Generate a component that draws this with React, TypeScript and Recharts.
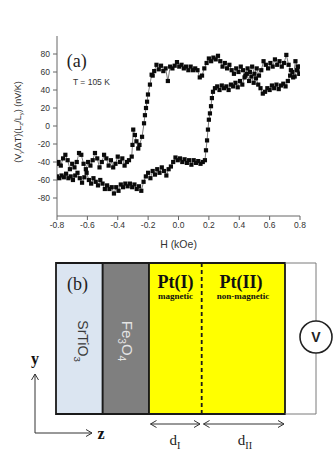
import React from 'react';
import { ScatterChart, Scatter, XAxis, YAxis, Label, ReferenceArea, ReferenceLine } from 'recharts';

const SANS = "'Liberation Sans', Arial, sans-serif";
const SERIF = "'Liberation Serif', 'Times New Roman', serif";

// ---------- panel (a) ----------
const xTicks = [-0.8, -0.6, -0.4, -0.2, 0, 0.2, 0.4, 0.6, 0.8];
const xMinor = [-0.7, -0.5, -0.3, -0.1, 0.1, 0.3, 0.5, 0.7];
const yTicks = [-80, -60, -40, -20, 0, 20, 40, 60, 80];
const yMinor = [-90, -70, -50, -30, -10, 10, 30, 50, 70, 90];

// field sweep from +0.8 kOe down to -0.8 kOe : [H (kOe), signal (nV/K)]
const sweepDown: [number, number][] = [
  [0.8, 58], [0.785, 66], [0.77, 72], [0.755, 54], [0.74, 62], [0.725, 68], [0.71, 79], [0.695, 70],
  [0.68, 66], [0.665, 72], [0.65, 68], [0.635, 74], [0.62, 66], [0.605, 70], [0.59, 64], [0.575, 68],
  [0.56, 72], [0.545, 62], [0.53, 56], [0.515, 64], [0.5, 58], [0.485, 66], [0.47, 60], [0.455, 64],
  [0.44, 56], [0.425, 62], [0.41, 66], [0.395, 60], [0.38, 64], [0.365, 58], [0.35, 62], [0.335, 68],
  [0.32, 64], [0.305, 70], [0.29, 66], [0.275, 72], [0.26, 78], [0.245, 74], [0.23, 76], [0.215, 72],
  [0.2, 75], [0.185, 70], [0.17, 64], [0.155, 56], [0.14, 54], [0.125, 62], [0.11, 64], [0.095, 62],
  [0.08, 66], [0.065, 62], [0.05, 66], [0.035, 64], [0.02, 68], [0.005, 66], [-0.01, 71], [-0.025, 67],
  [-0.04, 64], [-0.055, 66], [-0.07, 50], [-0.085, 64], [-0.1, 61], [-0.115, 67], [-0.13, 63], [-0.145, 68],
  [-0.16, 61], [-0.17, 56],
  [-0.177, 57], [-0.188, 46], [-0.201, 35], [-0.207, 27], [-0.214, 20], [-0.221, 12], [-0.227, 3],
  [-0.24, -12], [-0.257, -21], [-0.265, -25], [-0.277, -17], [-0.287, -10], [-0.298, -4], [-0.303, -21],
  [-0.308, -34], [-0.326, -38],
  [-0.34, -40], [-0.355, -44], [-0.37, -36], [-0.385, -40], [-0.4, -34], [-0.415, -42], [-0.43, -46],
  [-0.445, -38], [-0.46, -44], [-0.475, -36], [-0.49, -32], [-0.505, -40], [-0.52, -46], [-0.535, -36],
  [-0.55, -30], [-0.565, -38], [-0.58, -44], [-0.595, -40], [-0.61, -48], [-0.625, -42], [-0.64, -32],
  [-0.655, -30], [-0.67, -40], [-0.685, -46], [-0.7, -42], [-0.715, -48], [-0.73, -38], [-0.745, -32],
  [-0.76, -36], [-0.775, -44], [-0.79, -40], [-0.8, -42],
];

// field sweep from -0.8 kOe up to +0.8 kOe
const sweepUp: [number, number][] = [
  [-0.8, -56], [-0.785, -58], [-0.77, -55], [-0.755, -57], [-0.74, -53], [-0.725, -58], [-0.71, -56],
  [-0.695, -60], [-0.68, -55], [-0.665, -52], [-0.65, -58], [-0.635, -63], [-0.62, -57], [-0.605, -52],
  [-0.59, -60], [-0.575, -64], [-0.56, -58], [-0.545, -62], [-0.53, -66], [-0.515, -60], [-0.5, -64],
  [-0.485, -70], [-0.47, -66], [-0.455, -70], [-0.44, -68], [-0.425, -75], [-0.41, -68], [-0.395, -72],
  [-0.38, -65], [-0.365, -68], [-0.35, -64], [-0.335, -67], [-0.32, -64], [-0.305, -68], [-0.29, -65],
  [-0.275, -70], [-0.26, -67], [-0.245, -72], [-0.23, -62], [-0.215, -56], [-0.2, -52], [-0.185, -58],
  [-0.17, -50], [-0.155, -54], [-0.14, -48], [-0.125, -52], [-0.11, -46], [-0.095, -50], [-0.08, -55],
  [-0.065, -48], [-0.05, -45], [-0.035, -40], [-0.02, -35], [-0.005, -38], [0.01, -36], [0.025, -40],
  [0.04, -37], [0.055, -41], [0.07, -38], [0.085, -43], [0.1, -38], [0.115, -41], [0.13, -39],
  [0.145, -42], [0.16, -40], [0.174, -38],
  [0.181, -27], [0.188, -16], [0.194, -4], [0.2, 7], [0.207, 14], [0.214, 22], [0.22, 31], [0.227, 38],
  [0.24, 42], [0.255, 44], [0.27, 40], [0.285, 45], [0.3, 42], [0.315, 44], [0.33, 40], [0.345, 46],
  [0.36, 44], [0.375, 48], [0.39, 43], [0.405, 50], [0.42, 46], [0.435, 54], [0.45, 58], [0.465, 50],
  [0.48, 55], [0.495, 48], [0.51, 53], [0.525, 46], [0.54, 42], [0.555, 36], [0.57, 38], [0.585, 42],
  [0.6, 40], [0.615, 45], [0.63, 42], [0.645, 46], [0.66, 41], [0.675, 45], [0.69, 47], [0.705, 44],
  [0.72, 50], [0.735, 56], [0.75, 60], [0.765, 55], [0.78, 62], [0.795, 58], [0.8, 66],
];

type Part = { t: string; sub?: boolean };
type Note = {
  h?: number; v?: number; z?: number; y?: number;
  parts: Part[]; size: number; family: string; weight?: string | number;
  fill: string; anchor: 'start' | 'middle' | 'end'; rotate?: number;
};

const panelANotes: Note[] = [
  { h: -0.735, v: 66, parts: [{ t: '(a)' }], size: 18, family: SERIF, fill: '#222', anchor: 'start' },
  { h: -0.695, v: 46, parts: [{ t: 'T = 105 K' }], size: 8.5, family: SANS, fill: '#333', anchor: 'start' },
];

const yAxisTitle: Part[] = [
  { t: '(V' }, { t: 'y', sub: true }, { t: '/ΔT)(L' }, { t: 'z', sub: true },
  { t: '/L' }, { t: 'y', sub: true }, { t: ') (nV/K)' },
];

// ---------- panel (b) schematic ----------
const stackTop = 263;
const stackBottom = 414;
const layers = [
  { name: 'SrTiO3', from: 56, to: 102.7, fill: '#dbe5f1' },
  { name: 'Fe3O4', from: 102.7, to: 149, fill: '#7f7f7f' },
  { name: 'Pt', from: 149, to: 285, fill: '#ffff00' },
];
const ptBoundary = 201.7;
const wire: [number, number][] = [[285, 263], [316, 263], [316, 414], [285, 414]];
const voltmeter = [{ z: 316, y: 337 }];
const axisArrows = [
  { from: [35, 433], to: [35, 374], double: false },
  { from: [35, 433], to: [92, 433], double: false },
];
const thicknessArrows = [
  { from: [150.5, 424], to: [200, 424], double: true },
  { from: [203.5, 424], to: [284, 424], double: true },
];

const schematicNotes: Note[] = [
  { z: 67, y: 290, parts: [{ t: '(b)' }], size: 18, family: SERIF, fill: '#222', anchor: 'start' },
  { z: 78, y: 341, parts: [{ t: 'SrTiO' }, { t: '3', sub: true }], size: 14, family: SANS, fill: '#3a3a3a', anchor: 'middle', rotate: 90 },
  { z: 122, y: 341, parts: [{ t: 'Fe' }, { t: '3', sub: true }, { t: 'O' }, { t: '4', sub: true }], size: 15, family: SANS, fill: '#e4e4e4', anchor: 'middle', rotate: 90 },
  { z: 175.5, y: 287.5, parts: [{ t: 'Pt(I)' }], size: 18, family: SERIF, weight: 'bold', fill: '#111', anchor: 'middle' },
  { z: 175.5, y: 298.5, parts: [{ t: 'magnetic' }], size: 9, family: SERIF, weight: 'bold', fill: '#111', anchor: 'middle' },
  { z: 241, y: 287.5, parts: [{ t: 'Pt(II)' }], size: 18, family: SERIF, weight: 'bold', fill: '#111', anchor: 'middle' },
  { z: 243, y: 298.5, parts: [{ t: 'non-magnetic' }], size: 9, family: SERIF, weight: 'bold', fill: '#111', anchor: 'middle' },
  { z: 35, y: 364, parts: [{ t: 'y' }], size: 16, family: SERIF, weight: 'bold', fill: '#111', anchor: 'middle' },
  { z: 101, y: 438.5, parts: [{ t: 'z' }], size: 16, family: SERIF, weight: 'bold', fill: '#111', anchor: 'middle' },
  { z: 175, y: 445, parts: [{ t: 'd' }, { t: 'I', sub: true }], size: 15, family: SERIF, fill: '#222', anchor: 'middle' },
  { z: 245, y: 445, parts: [{ t: 'd' }, { t: 'II', sub: true }], size: 15, family: SERIF, fill: '#222', anchor: 'middle' },
];

function RichText(props: {
  x: number; y: number; parts: Part[]; size: number; family: string; weight?: string | number;
  fill: string; anchor: 'start' | 'middle' | 'end'; rotate?: number;
}) {
  const { x, y, parts, size, family, weight, fill, anchor, rotate } = props;
  const shift = size * 0.28;
  let shifted = false;
  const kids = parts.map((p, i) => {
    let dy = 0;
    if (p.sub && !shifted) { dy = shift; shifted = true; }
    else if (!p.sub && shifted) { dy = -shift; shifted = false; }
    return (
      <tspan key={i} dy={dy} fontSize={p.sub ? size * 0.68 : size}>{p.t}</tspan>
    );
  });
  return (
    <text
      x={x}
      y={y}
      textAnchor={anchor}
      fontFamily={family}
      fontWeight={weight ?? 'normal'}
      fill={fill}
      fontSize={size}
      transform={rotate ? `rotate(${rotate} ${x} ${y})` : undefined}
    >
      {kids}
    </text>
  );
}

const noteShape = (p: any) => {
  const n: Note = p.payload;
  return <RichText x={p.cx} y={p.cy} parts={n.parts} size={n.size} family={n.family} weight={n.weight} fill={n.fill} anchor={n.anchor} rotate={n.rotate} />;
};

const squareShape = (p: any) => (
  <rect x={p.cx - 2.1} y={p.cy - 2.1} width={4.2} height={4.2} fill="#0a0a0a" />
);

const voltShape = (p: any) => (
  <g>
    <circle cx={p.cx} cy={p.cy} r={16} fill="#fff" stroke="#222" strokeWidth={1.6} />
    <text x={p.cx} y={p.cy + 5} textAnchor="middle" fontFamily={SANS} fontWeight="bold" fontSize={14} fill="#222">V</text>
  </g>
);

function arrowSegments(a: { from: number[]; to: number[]; double: boolean }) {
  const [x1, y1] = a.from;
  const [x2, y2] = a.to;
  const len = Math.hypot(x2 - x1, y2 - y1);
  const ux = (x2 - x1) / len;
  const uy = (y2 - y1) / len;
  const nx = -uy;
  const ny = ux;
  const L = 6;
  const W = 3.5;
  const segs: { x: number; y: number }[][] = [[{ x: x1, y: y1 }, { x: x2, y: y2 }]];
  const head = (hx: number, hy: number, dx: number, dy: number) => {
    segs.push([{ x: hx, y: hy }, { x: hx - dx * L + nx * W, y: hy - dy * L + ny * W }]);
    segs.push([{ x: hx, y: hy }, { x: hx - dx * L - nx * W, y: hy - dy * L - ny * W }]);
  };
  head(x2, y2, ux, uy);
  if (a.double) head(x1, y1, -ux, -uy);
  return segs;
}

const downRows = sweepDown.map(([h, v]) => ({ h, v }));
const upRows = sweepUp.map(([h, v]) => ({ h, v }));

const tickStyle = { fill: '#333', fontSize: 8.5, fontFamily: SANS };

export default function App() {
  const arrowSegs = [...axisArrows, ...thicknessArrows].flatMap(arrowSegments);
  const wireSegs = wire.slice(1).map((p, i) => [
    { x: wire[i][0], y: wire[i][1] },
    { x: p[0], y: p[1] },
  ]);
  return (
    <div style={{ position: 'absolute', left: 0, top: 0, width: 336, height: 459, background: '#fff' }}>
      <div style={{ position: 'absolute', left: 0, top: 0 }}>
        <ScatterChart width={336} height={250} margin={{ top: 36, right: 36, bottom: 0, left: 0 }}>
          <XAxis
            xAxisId="main" dataKey="h" type="number" domain={[-0.8, 0.8]} ticks={xTicks} allowDataOverflow
            tickFormatter={(t: number) => t.toFixed(1)} height={34} tickSize={4} tickMargin={2}
            stroke="#666" tick={tickStyle} interval={0}
          >
            <Label
              content={(lp: any) => {
                const vb = lp.viewBox || { x: 57, y: 216, width: 243, height: 34 };
                return (
                  <text x={vb.x + vb.width / 2} y={vb.y + 31.5} textAnchor="middle" fontFamily={SANS} fontSize={10.5} fill="#333">H (kOe)</text>
                );
              }}
            />
          </XAxis>
          <XAxis xAxisId="top" orientation="top" mirror type="number" domain={[-0.8, 0.8]} ticks={xTicks} allowDataOverflow height={0} tick={false} tickSize={3} stroke="#666" interval={0} />
          <XAxis xAxisId="bminor" orientation="bottom" mirror type="number" domain={[-0.8, 0.8]} ticks={xMinor} allowDataOverflow height={0} tick={false} tickSize={2} axisLine={false} stroke="#666" interval={0} />
          <XAxis xAxisId="tminor" orientation="top" mirror type="number" domain={[-0.8, 0.8]} ticks={xMinor} allowDataOverflow height={0} tick={false} tickSize={2} axisLine={false} stroke="#666" interval={0} />
          <YAxis
            yAxisId="main" dataKey="v" type="number" domain={[-100, 100]} ticks={yTicks} allowDataOverflow
            width={57} tickSize={4} tickMargin={3} stroke="#666" tick={tickStyle} interval={0}
          >
            <Label
              content={(lp: any) => {
                const vb = lp.viewBox || { x: 0, y: 36, width: 57, height: 180 };
                const cx = vb.x + 20.5;
                const cy = vb.y + vb.height / 2 - 4;
                return <RichText x={cx} y={cy} parts={yAxisTitle} size={9} family={SANS} fill="#333" anchor="middle" rotate={-90} />;
              }}
            />
          </YAxis>
          <YAxis yAxisId="right" orientation="right" mirror type="number" domain={[-100, 100]} ticks={yTicks} allowDataOverflow width={0} tick={false} tickSize={3} stroke="#666" interval={0} />
          <YAxis yAxisId="lminor" orientation="left" mirror type="number" domain={[-100, 100]} ticks={yMinor} allowDataOverflow width={0} tick={false} tickSize={2} axisLine={false} stroke="#666" interval={0} />
          <YAxis yAxisId="rminor" orientation="right" mirror type="number" domain={[-100, 100]} ticks={yMinor} allowDataOverflow width={0} tick={false} tickSize={2} axisLine={false} stroke="#666" interval={0} />
          <Scatter xAxisId="main" yAxisId="main" data={downRows} dataKey="v" shape={squareShape} line={{ stroke: '#444', strokeWidth: 0.7 }} isAnimationActive={false} />
          <Scatter xAxisId="main" yAxisId="main" data={upRows} dataKey="v" shape={squareShape} line={{ stroke: '#444', strokeWidth: 0.7 }} isAnimationActive={false} />
          <Scatter xAxisId="main" yAxisId="main" data={panelANotes.map((n) => ({ ...n }))} dataKey="v" shape={noteShape} isAnimationActive={false} />
        </ScatterChart>
      </div>
      <div style={{ position: 'absolute', left: 0, top: 250 }}>
        <ScatterChart width={336} height={209} margin={{ top: 0, right: 0, bottom: 0, left: 0 }}>
          <XAxis xAxisId="s" dataKey="z" type="number" domain={[0, 336]} hide allowDataOverflow />
          <YAxis yAxisId="s" dataKey="y" type="number" domain={[250, 459]} reversed hide allowDataOverflow />
          {wireSegs.map((seg, i) => (
            <ReferenceLine key={'w' + i} xAxisId="s" yAxisId="s" segment={seg} stroke="#7a7a7a" strokeWidth={1} ifOverflow="visible" />
          ))}
          {layers.map((l) => (
            <ReferenceArea
              key={l.name} xAxisId="s" yAxisId="s" x1={l.from} x2={l.to} y1={stackTop} y2={stackBottom}
              fill={l.fill} fillOpacity={1} stroke="#1a1a1a" strokeWidth={1.8} ifOverflow="visible"
            />
          ))}
          <ReferenceLine
            xAxisId="s" yAxisId="s" segment={[{ x: ptBoundary, y: stackTop }, { x: ptBoundary, y: stackBottom }]}
            stroke="#1a1a1a" strokeWidth={1.8} strokeDasharray="4 3" ifOverflow="visible"
          />
          {arrowSegs.map((seg, i) => (
            <ReferenceLine key={'a' + i} xAxisId="s" yAxisId="s" segment={seg} stroke="#333" strokeWidth={1} ifOverflow="visible" />
          ))}
          <Scatter xAxisId="s" yAxisId="s" data={voltmeter} dataKey="y" shape={voltShape} isAnimationActive={false} />
          <Scatter xAxisId="s" yAxisId="s" data={schematicNotes.map((n) => ({ ...n }))} dataKey="y" shape={noteShape} isAnimationActive={false} />
        </ScatterChart>
      </div>
    </div>
  );
}
